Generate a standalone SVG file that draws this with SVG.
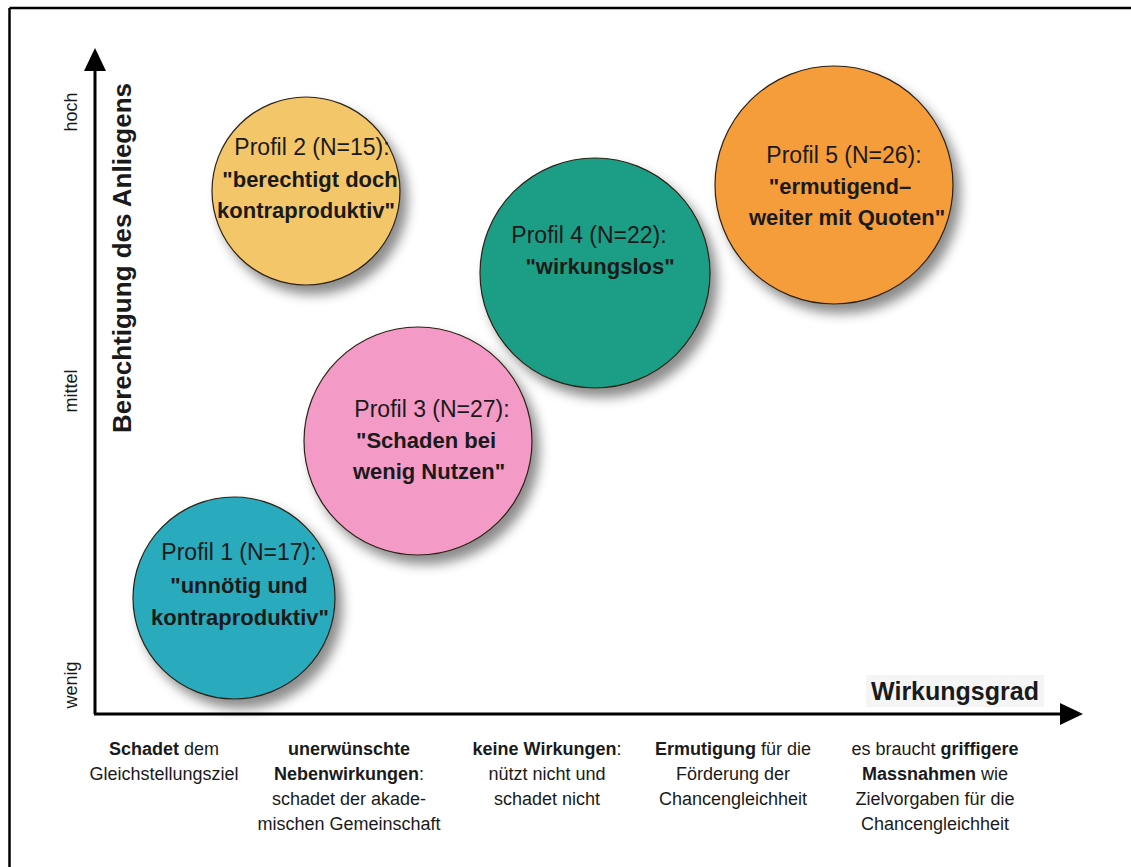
<svg xmlns="http://www.w3.org/2000/svg" width="1131" height="867" viewBox="0 0 1131 867">
  <defs>
    <filter id="shadow" x="-20%" y="-20%" width="150%" height="150%">
      <feDropShadow dx="7" dy="9" stdDeviation="6" flood-color="#000" flood-opacity="0.45"/>
    </filter>
    <marker id="arrow" viewBox="0 0 24 24" refX="0" refY="12" markerWidth="24" markerHeight="24" markerUnits="userSpaceOnUse" orient="auto">
      <path d="M0,1 L23,12 L0,23 Z" fill="#000"/>
    </marker>
  </defs>
  <style>
    text { font-family: "Liberation Sans", Arial, sans-serif; fill: #1a1a1a; }
    .bubble { stroke: #2b2114; stroke-width: 1.2; filter: url(#shadow); }
    .ct { font-size: 23px; text-anchor: middle; }
    .ctb { font-size: 22px; font-weight: bold; text-anchor: middle; }
    .b { font-weight: bold; }
    .bt { font-size: 18px; text-anchor: middle; }
    .tick { font-size: 18px; text-anchor: middle; }
    .axis { stroke: #000; stroke-width: 3; fill: none; }
  </style>
  <rect width="1131" height="867" fill="#fff"/>
  <!-- frame (top and left edges) -->
  <line x1="9.5" y1="8" x2="1131" y2="8" stroke="#000" stroke-width="2.5"/>
  <line x1="9.5" y1="8" x2="9.5" y2="867" stroke="#000" stroke-width="2.5"/>

  <g id="connectors">
    <line class="axis" x1="95" y1="714" x2="95" y2="71" marker-end="url(#arrow)"/>
    <line class="axis" x1="94" y1="714" x2="1060" y2="714" marker-end="url(#arrow)"/>
  </g>

  <g id="y-axis-labels">
    <text class="tick" transform="translate(77,112) rotate(-90)">hoch</text>
    <text class="tick" transform="translate(77,391) rotate(-90)">mittel</text>
    <text class="tick" transform="translate(77,685) rotate(-90)">wenig</text>
    <text class="b" font-size="26" text-anchor="middle" transform="translate(131,258) rotate(-90)">Berechtigung des Anliegens</text>
  </g>

  <g id="x-axis-title">
    <rect x="866" y="675" width="178" height="32" fill="#f5f5f5"/>
    <text class="b" font-size="25" text-anchor="middle" x="955" y="700">Wirkungsgrad</text>
  </g>

  <g id="profil1">
    <circle class="bubble" cx="234" cy="598" r="101" fill="#2aaabd"/>
    <text class="ct" x="239" y="560">Profil 1 (N=17):</text>
    <text class="ctb" x="239" y="593">"unnötig und</text>
    <text class="ctb" x="240" y="625">kontraproduktiv"</text>
  </g>

  <g id="profil2">
    <circle class="bubble" cx="306" cy="191" r="94" fill="#f4c66b"/>
    <text class="ct" x="312" y="155">Profil 2 (N=15):</text>
    <text class="ctb" x="310" y="187">"berechtigt doch</text>
    <text class="ctb" x="306" y="218">kontraproduktiv"</text>
  </g>

  <g id="profil5">
    <circle class="bubble" cx="834" cy="185" r="119" fill="#f69d3a"/>
    <text class="ct" x="844" y="163">Profil 5 (N=26):</text>
    <text class="ctb" x="840" y="194">"ermutigend–</text>
    <text class="ctb" x="847" y="225">weiter mit Quoten"</text>
  </g>

  <g id="profil4">
    <circle class="bubble" cx="595" cy="273" r="115" fill="#1e9e86"/>
    <text class="ct" x="589" y="243">Profil 4 (N=22):</text>
    <text class="ctb" x="600" y="274">"wirkungslos"</text>
  </g>

  <g id="profil3">
    <circle class="bubble" cx="418" cy="441" r="114" fill="#f39bc6"/>
    <text class="ct" x="432" y="417">Profil 3 (N=27):</text>
    <text class="ctb" x="426" y="448">"Schaden bei</text>
    <text class="ctb" x="429" y="479">wenig Nutzen"</text>
  </g>

  <g id="bottom-labels">
    <text class="bt" x="164" y="755"><tspan class="b">Schadet</tspan> dem</text>
    <text class="bt" x="164" y="780">Gleichstellungsziel</text>

    <text class="bt" x="349" y="755"><tspan class="b">unerwünschte</tspan></text>
    <text class="bt" x="349" y="780"><tspan class="b">Nebenwirkungen</tspan>:</text>
    <text class="bt" x="349" y="805">schadet der akade-</text>
    <text class="bt" x="349" y="830">mischen Gemeinschaft</text>

    <text class="bt" x="547" y="755"><tspan class="b">keine Wirkungen</tspan>:</text>
    <text class="bt" x="547" y="780">nützt nicht und</text>
    <text class="bt" x="547" y="805">schadet nicht</text>

    <text class="bt" x="733" y="755"><tspan class="b">Ermutigung</tspan> für die</text>
    <text class="bt" x="733" y="780">Förderung der</text>
    <text class="bt" x="733" y="805">Chancengleichheit</text>

    <text class="bt" x="935" y="755">es braucht <tspan class="b">griffigere</tspan></text>
    <text class="bt" x="935" y="780"><tspan class="b">Massnahmen</tspan> wie</text>
    <text class="bt" x="935" y="805">Zielvorgaben für die</text>
    <text class="bt" x="935" y="830">Chancengleichheit</text>
  </g>
</svg>
